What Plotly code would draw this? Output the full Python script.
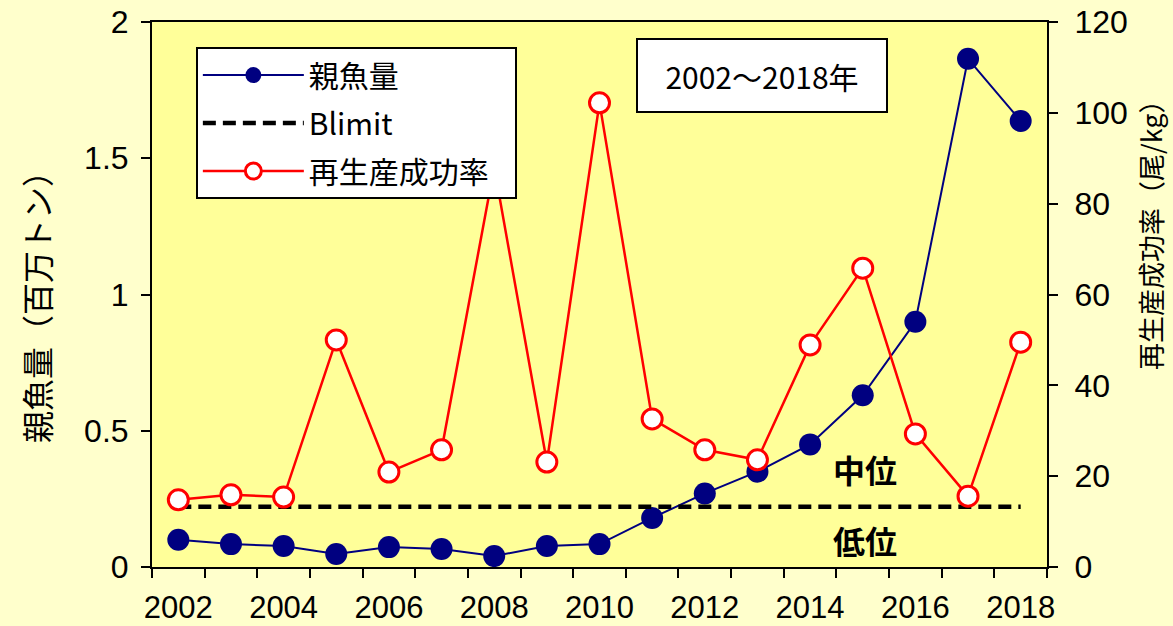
import plotly.graph_objects as go

# Spawning stock biomass (million t) and recruitment per spawner (fish/kg), 2002-2018
years = list(range(2002, 2019))
spawning_biomass = [0.10, 0.084, 0.077, 0.048, 0.073, 0.066, 0.040, 0.077, 0.084,
                    0.18, 0.27, 0.35, 0.45, 0.63, 0.90, 1.865, 1.637]
rps = [14.8, 15.9, 15.4, 50.0, 20.9, 25.8, 88.0, 23.1, 102.2,
       32.6, 25.8, 23.6, 48.9, 65.8, 29.3, 15.6, 49.5]
blimit = 0.221

label_years = list(range(2002, 2019, 2))
left_ticks = [0, 0.5, 1, 1.5, 2]
right_ticks = [0, 20, 40, 60, 80, 100, 120]

JP = "Noto Sans CJK JP"
NUM = "Liberation Sans"

fig = go.Figure()

fig.add_trace(go.Scatter(
    x=years, y=spawning_biomass, name="親魚量", mode="lines+markers",
    line=dict(color="#000080", width=2),
    marker=dict(color="#000080", size=22),
    legendgroup="a", legendrank=1,
))
fig.add_trace(go.Scatter(
    x=[years[0], years[-1]], y=[blimit, blimit], name="Blimit", mode="lines",
    line=dict(color="black", width=4.5, dash="13px,7px"),
    legendgroup="b", legendrank=2,
))
# trailing no-break spaces give the legend box some right padding
fig.add_trace(go.Scatter(
    x=years, y=rps, name="再生産成功率\u00a0\u00a0\u00a0", mode="lines+markers", yaxis="y2",
    line=dict(color="#FF0000", width=2.5),
    marker=dict(color="white", size=20, line=dict(color="#FF0000", width=3)),
    legendgroup="c", legendrank=3,
))

fig.update_layout(
    width=1173, height=626,
    margin=dict(l=152, r=126, t=22, b=59),
    paper_bgcolor="#FFFFCC",
    plot_bgcolor="#FFFF99",
    font=dict(family=JP, color="black"),
    showlegend=True,
    legend=dict(
        x=0.049, y=0.954, xanchor="left", yanchor="top",
        bgcolor="white", bordercolor="black", borderwidth=2,
        font=dict(family=JP, size=30, color="black"),
        itemwidth=101, tracegroupgap=6,
        traceorder="grouped",
    ),
    xaxis=dict(
        range=[2001.5, 2018.5], automargin=False,
        tickmode="array", tickvals=label_years,
        ticktext=[str(y) for y in label_years],
        ticks="", ticklabelstandoff=12,
        tickfont=dict(family=NUM, size=31, color="black"),
        showline=True, linecolor="black", linewidth=2, mirror=True,
        showgrid=False, zeroline=False,
        minor=dict(ticks="outside", tick0=2001.5, dtick=1, ticklen=9,
                   tickwidth=2, tickcolor="black", showgrid=False),
    ),
    yaxis=dict(
        range=[0, 2], tickmode="array", tickvals=left_ticks, automargin=False,
        ticks="outside", ticklen=9, tickwidth=2, tickcolor="black",
        ticklabelstandoff=6,
        tickfont=dict(family=NUM, size=32, color="black"),
        showline=True, linecolor="black", linewidth=2,
        showgrid=False, zeroline=False,
    ),
    yaxis2=dict(
        range=[0, 120], tickmode="array", tickvals=right_ticks, automargin=False,
        overlaying="y", side="right",
        ticks="outside", ticklen=9, tickwidth=2, tickcolor="black",
        ticklabelstandoff=10,
        tickfont=dict(family=NUM, size=32, color="black"),
        showline=True, linecolor="black", linewidth=2,
        showgrid=False, zeroline=False,
    ),
    annotations=[
        dict(text="親魚量（百万トン）", xref="paper", yref="paper",
             x=-0.1296, y=0.4917, xanchor="center", yanchor="middle",
             textangle=-90, showarrow=False,
             font=dict(family=JP, size=32, color="black")),
        dict(text="再生産成功率（尾/kg）", xref="paper", yref="paper",
             x=1.115, y=0.622, xanchor="center", yanchor="middle",
             textangle=-90, showarrow=False,
             font=dict(family=JP, size=27, color="black")),
        dict(text="2002～2018年", xref="paper", yref="paper",
             x=0.6816, y=0.9018, xanchor="center", yanchor="middle",
             showarrow=False,
             bgcolor="white", bordercolor="black", borderwidth=2, borderpad=2,
             width=244, height=67,
             font=dict(family=JP, size=30, color="black")),
        dict(text="<b>中位</b>", xref="x", yref="y", x=2015.05, y=0.36,
             xanchor="center", yanchor="middle",
             showarrow=False, font=dict(family=JP, size=32, color="black")),
        dict(text="<b>低位</b>", xref="x", yref="y", x=2015.05, y=0.099,
             xanchor="center", yanchor="middle",
             showarrow=False, font=dict(family=JP, size=32, color="black")),
    ],
)

fig.write_html("out.html")
